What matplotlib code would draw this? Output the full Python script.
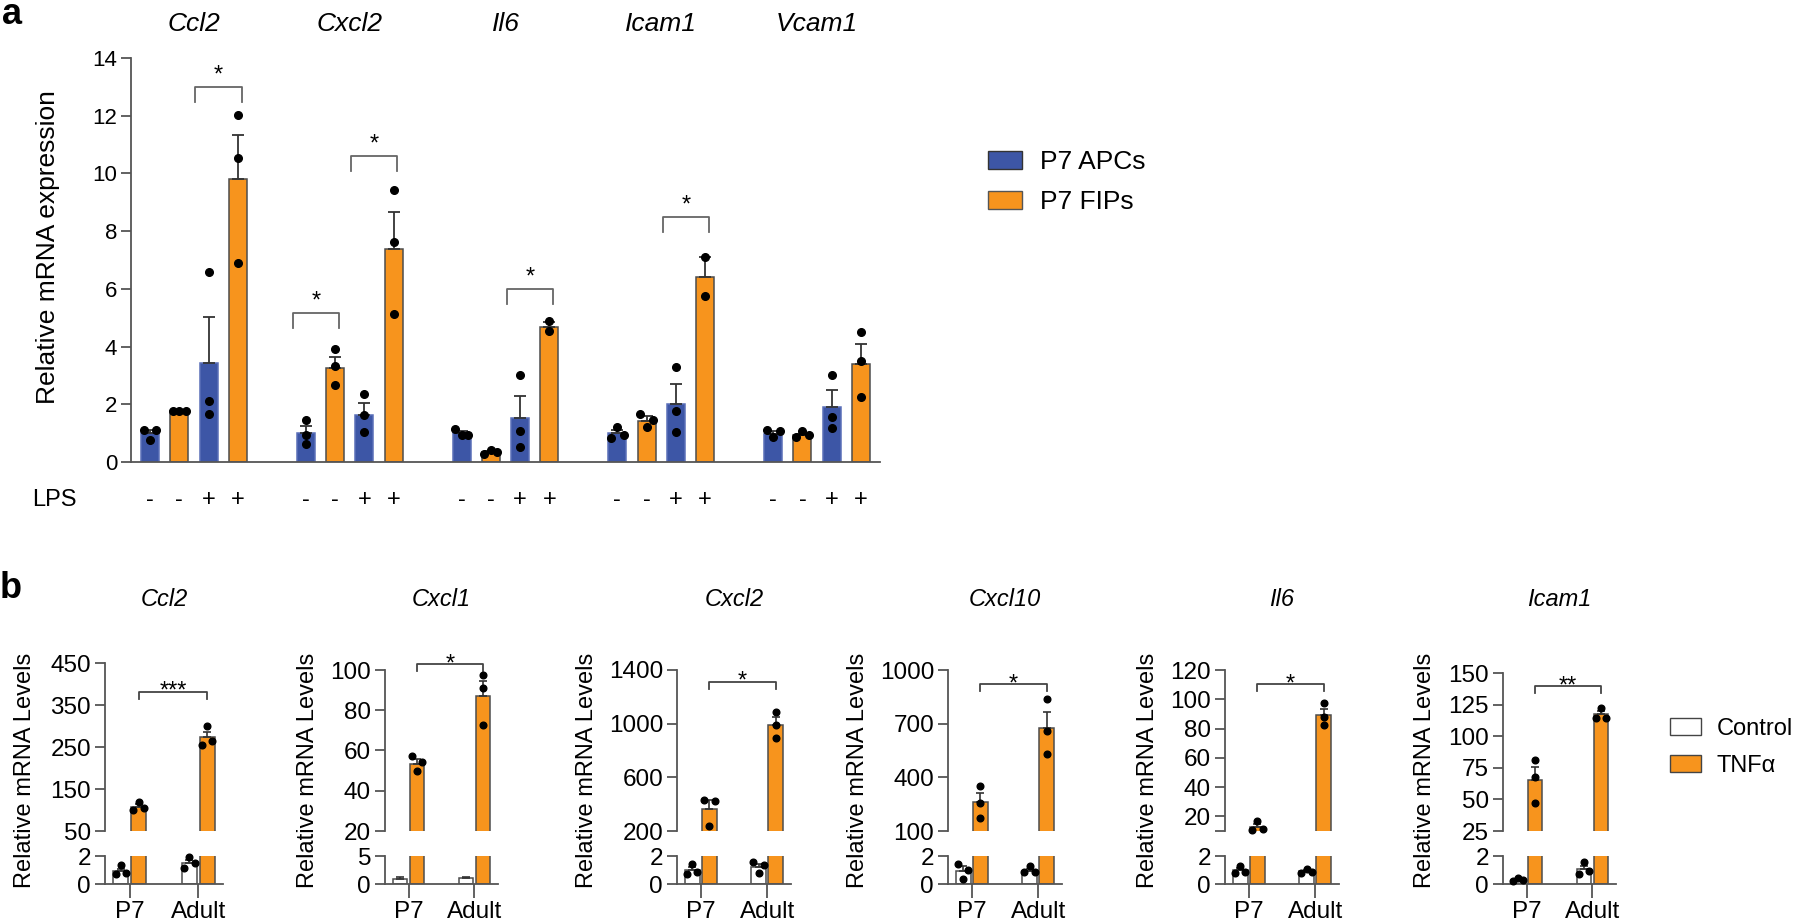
import numpy as np
import matplotlib
matplotlib.use("Agg")
import matplotlib.pyplot as plt
from matplotlib.patches import Patch

plt.rcParams.update({
    "font.family": ["Liberation Sans", "DejaVu Sans"],
    "axes.linewidth": 1.3,
    "axes.edgecolor": "#555555",
    "xtick.color": "#555555",
    "ytick.color": "#555555",
    "xtick.labelcolor": "black",
    "ytick.labelcolor": "black",
    "axes.spines.top": False,
    "axes.spines.right": False,
})

BLUE = "#3d56a6"
ORANGE = "#f7941d"

# ---------------- panel a data (LPS) ----------------
genes_a = ["Ccl2", "Cxcl2", "Il6", "Icam1", "Vcam1"]
groups_a = ["P7 APCs", "P7 FIPs"]
lps_signs = ["-", "-", "+", "+"]
# bar order in each gene: APCs -, FIPs -, APCs +, FIPs +
mean_a = [
    [1.00, 1.76, 3.43, 9.80],
    [1.00, 3.26, 1.64, 7.38],
    [1.01, 0.34, 1.52, 4.68],
    [0.99, 1.43, 2.02, 6.41],
    [0.98, 0.93, 1.90, 3.40],
]
sem_a = [
    [0.12, 0.02, 1.59, 1.54],
    [0.26, 0.38, 0.40, 1.27],
    [0.07, 0.03, 0.78, 0.18],
    [0.12, 0.15, 0.68, 0.68],
    [0.08, 0.05, 0.58, 0.68],
]
pts_a = [
    [[1.12, 0.75, 1.12], [1.75, 1.78, 1.76], [6.60, 2.12, 1.65], [12.02, 10.52, 6.89]],
    [[1.47, 0.95, 0.62], [3.91, 3.31, 2.66], [2.36, 1.62, 1.03], [9.43, 7.64, 5.12]],
    [[1.15, 0.92, 0.95], [0.29, 0.40, 0.35], [3.03, 1.06, 0.51], [4.87, 4.55]],
    [[0.82, 1.22, 0.94], [1.65, 1.20, 1.47], [3.29, 1.78, 1.05], [7.10, 5.75]],
    [[1.10, 0.85, 1.06], [0.88, 1.06, 0.95], [3.03, 1.57, 1.18], [4.49, 3.50, 2.26]],
]
# (gene, bar i, bar j, bracket height, label)
sig_a = [(0, 2, 3, 12.99, "*"), (1, 0, 1, 5.16, "*"), (1, 2, 3, 10.60, "*"),
         (2, 2, 3, 5.99, "*"), (3, 2, 3, 8.49, "*")]

# ---------------- panel b data (TNFa) ----------------
genes_b = ["Ccl2", "Cxcl1", "Cxcl2", "Cxcl10", "Il6", "Icam1"]
ages_b = ["P7", "Adult"]
treat_b = ["Control", "TNFα"]
# bar order: P7 control, P7 TNFa, Adult control, Adult TNFa
mean_b = [
    [0.95, 108.0, 1.52, 273.0],
    [0.85, 53.5, 1.10, 87.1],
    [0.99, 364.0, 1.23, 991.0],
    [0.94, 260.0, 0.93, 676.0],
    [0.98, 13.0, 0.91, 89.3],
    [0.29, 65.4, 1.08, 117.2],
]
sem_b = [
    [0.15, 5.6, 0.22, 13.6],
    [0.45, 2.2, 0.10, 7.5],
    [0.21, 64.0, 0.22, 56.0],
    [0.33, 52.0, 0.13, 90.0],
    [0.16, 1.8, 0.07, 4.3],
    [0.08, 10.0, 0.24, 2.5],
]
pts_b = [
    [[0.74, 1.33, 0.79], [100.6, 119.0, 104.6], [1.16, 1.91, 1.49], [254.8, 299.8, 265.3]],
    [[], [57.4, 54.5, 49.7], [], [97.5, 91.3, 72.5]],
    [[0.70, 1.40, 0.86], [434.0, 237.0, 422.0], [1.56, 0.81, 1.33], [1089.0, 989.0, 895.0]],
    [[1.46, 1.02, 0.34], [351.0, 259.0, 170.0], [0.83, 1.27, 0.83], [840.0, 659.0, 530.0]],
    [[0.81, 1.31, 0.83], [10.9, 16.6, 11.4], [0.81, 1.05, 0.88], [97.3, 88.2, 82.5]],
    [[0.18, 0.44, 0.26], [81.5, 67.8, 47.0], [0.74, 1.54, 0.95], [114.7, 122.2, 114.7]],
]
upper_lim = [(50, 450), (20, 100), (200, 1400), (100, 1000), (10, 120), (25, 150)]
upper_ticks = [[50, 150, 250, 350, 450], [20, 40, 60, 80, 100], [200, 600, 1000, 1400],
               [100, 400, 700, 1000], [10, 20, 40, 60, 80, 100, 120], [25, 50, 75, 100, 125, 150]]
lower_top = [2, 5, 2, 2, 2, 2]
sig_b = [(381.7, "***"), (103.0, "*"), (1313.0, "*"), (921.0, "*"), (110.2, "*"), (139.6, "**")]

W, H = 1800, 921
fig = plt.figure(figsize=(W / 100, H / 100), dpi=100)


def frame(x0, y0, x1, y1):
    # pixel box (top-left origin) -> figure fraction rect
    return [x0 / W, 1 - y1 / H, (x1 - x0) / W, (y1 - y0) / H]


def spread(vals, ppu, thr, step):
    # horizontal offsets so overlapping dots sit side by side
    v = np.asarray(vals, float)
    off = np.zeros(len(v))
    if len(v) == 0:
        return off
    order = np.argsort(v, kind="stable")
    clusters = [[order[0]]]
    for k in order[1:]:
        if (v[k] - v[clusters[-1][-1]]) * ppu < thr:
            clusters[-1].append(k)
        else:
            clusters.append([k])
    for c in clusters:
        c = sorted(c)
        m = len(c)
        for r, k in enumerate(c):
            off[k] = (2 * r - 1) * step if m == 2 else (r - (m - 1) / 2) * step
    return off


# ================= panel a =================
gap = 5.32
ax = fig.add_axes(frame(131, 58, 880, 462))
ppu_a = 404 / 14
for g, gene in enumerate(genes_a):
    for i in range(4):
        x = g * gap + i
        blue = i % 2 == 0
        ax.bar(x, mean_a[g][i], width=0.61, color=BLUE if blue else ORANGE,
               edgecolor="#5a6fb8" if blue else "#4d4d4d", linewidth=1.1, zorder=2)
        ax.errorbar(x, mean_a[g][i], yerr=[[0], [sem_a[g][i]]], fmt="none", ecolor="#333333",
                    elinewidth=1.3, capsize=4, capthick=1.3, zorder=3)
        p = pts_a[g][i]
        ax.plot(x + spread(p, ppu_a, 8, 0.22), p, "o", color="black", ms=5.5, zorder=4,
                clip_on=False)
        ax.text(x, -0.094, lps_signs[i], transform=ax.get_xaxis_transform(),
                ha="center", va="center", fontsize=17)
    ax.text(g * gap + 1.5, 1.084, gene, transform=ax.get_xaxis_transform(),
            ha="center", va="center", fontsize=19, style="italic")

for g, i, j, top, lab in sig_a:
    x1, x2 = g * gap + i - 0.45, g * gap + j + 0.13
    leg = 15 / ppu_a
    ax.plot([x1, x1, x2, x2], [top - leg, top, top, top - leg], color="#666666", lw=1.3,
            clip_on=False)
    ax.annotate(lab, ((x1 + x2) / 2, top), xytext=(0, 4), textcoords="offset points",
                ha="center", va="baseline", fontsize=17)

ax.set_xlim(-0.65, 4 * gap + 3 + 0.65)
ax.set_ylim(0, 14)
ax.set_yticks(range(0, 15, 2))
ax.set_xticks([])
ax.tick_params(axis="y", labelsize=16, length=7, width=1.3, pad=3)
fig.text(48 / W, 1 - 247 / H, "Relative mRNA expression", rotation=90, ha="center",
         va="center", fontsize=19)
fig.text(32 / W, 1 - 500 / H, "LPS", ha="left", va="center", fontsize=17)
fig.text(2 / W, 1 - 24 / H, "a", fontsize=26, fontweight="bold", va="baseline")

fig.legend(handles=[Patch(facecolor=BLUE, edgecolor="#333333"),
                    Patch(facecolor=ORANGE, edgecolor="#555555")],
           labels=groups_a, loc="upper left", bbox_to_anchor=(988 / W, 1 - 150 / H),
           frameon=False, fontsize=19, handlelength=1.29, handleheight=0.68,
           handletextpad=0.68, labelspacing=0.6, borderpad=0, borderaxespad=0)

# ================= panel b =================
b_left = [105, 385, 677, 948, 1225, 1503]
b_right = [223, 498, 791, 1062, 1339, 1616]
b_top = [663, 670, 670, 670, 670, 673]
b_ylab = [25, 308, 587, 858, 1148, 1425]
xpos = [-0.13, 0.13, 0.87, 1.13]

for k, gene in enumerate(genes_b):
    axu = fig.add_axes(frame(b_left[k], b_top[k], b_right[k], 831))
    axl = fig.add_axes(frame(b_left[k], 856, b_right[k], 884))
    lo, hi = upper_lim[k]
    ppu_u = (831 - b_top[k]) / (hi - lo)
    ppu_l = 28 / lower_top[k]
    for a, (ylo, yhi), ppu in [(axu, (lo, hi), ppu_u), (axl, (0, lower_top[k]), ppu_l)]:
        for i in range(4):
            tnf = i % 2 == 1
            a.bar(xpos[i], mean_b[k][i], width=0.22, color=ORANGE if tnf else "white",
                  edgecolor="#4d4d4d", linewidth=1.1, zorder=2)
            a.errorbar(xpos[i], mean_b[k][i], yerr=[[0], [sem_b[k][i]]], fmt="none",
                       ecolor="#333333", elinewidth=1.2, capsize=3, capthick=1.2, zorder=3)
            p = np.asarray(pts_b[k][i], float)
            if len(p) == 0:
                continue
            off = spread(p, ppu, 7, 0.076)
            keep = (p >= ylo) & (p <= yhi)
            a.plot(xpos[i] + off[keep], p[keep], "o", color="black", ms=4.8, zorder=4,
                   clip_on=False)
        a.set_xlim(-0.36, 1.36)
        a.set_ylim(ylo, yhi)
        a.tick_params(axis="y", labelsize=17.5, length=7, width=1.3, pad=3)

    axu.spines["bottom"].set_visible(False)
    axu.set_xticks([])
    axu.set_yticks(upper_ticks[k])
    if k == 4:
        axu.set_yticklabels([""] + [str(t) for t in upper_ticks[k][1:]])
    axl.set_yticks([0, lower_top[k]])
    axl.set_xticks([0, 1])
    axl.set_xticklabels(ages_b)
    axl.tick_params(axis="x", labelsize=17.5, length=10, width=1.3, pad=2)

    top, lab = sig_b[k]
    leg = 7 / ppu_u
    axu.plot([0.13, 0.13, 1.13, 1.13], [top - leg, top, top, top - leg], color="#444444",
             lw=1.3, clip_on=False)
    axu.annotate(lab, (0.63, top), xytext=(0, -4.5), textcoords="offset points",
                 ha="center", va="baseline", fontsize=17, annotation_clip=False)

    fig.text((b_left[k] + b_right[k]) / 2 / W, 1 - 600 / H, gene, ha="center", va="center",
             fontsize=17, style="italic")
    fig.text(b_ylab[k] / W, 1 - 770 / H, "Relative mRNA Levels", rotation=90, ha="center",
             va="center", fontsize=17)

fig.text(0, 1 - 598 / H, "b", fontsize=26, fontweight="bold", va="baseline")

fig.legend(handles=[Patch(facecolor="white", edgecolor="#444444"),
                    Patch(facecolor=ORANGE, edgecolor="#444444")],
           labels=treat_b, loc="upper left", bbox_to_anchor=(1670 / W, 1 - 718 / H),
           frameon=False, fontsize=17, handlelength=1.31, handleheight=0.72,
           handletextpad=0.65, labelspacing=0.62, borderpad=0, borderaxespad=0)

fig.savefig("out.png", dpi=100)
